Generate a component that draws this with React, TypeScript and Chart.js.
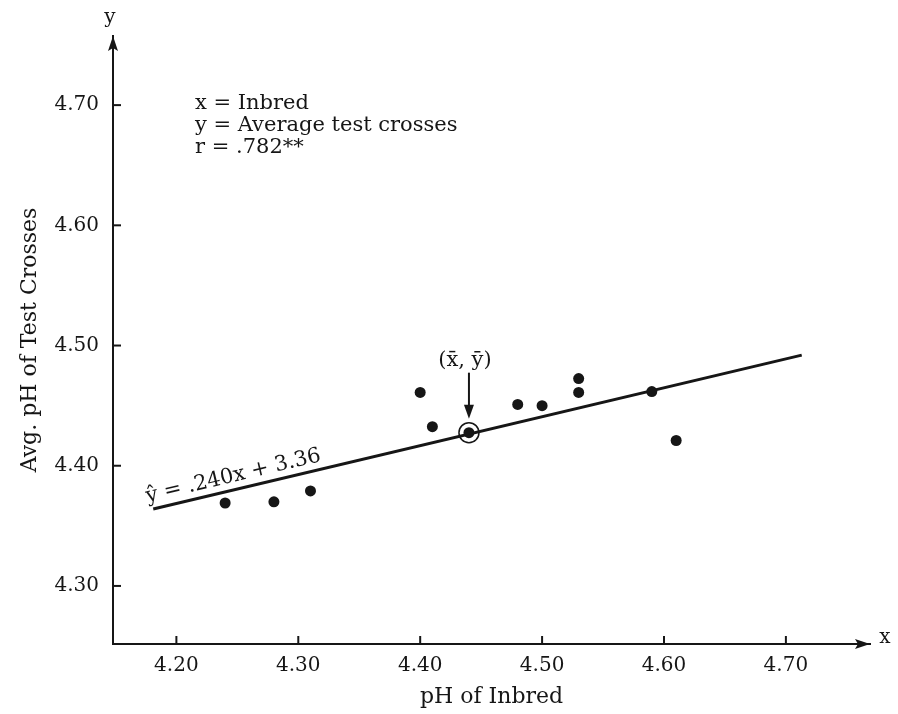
import React, { useEffect, useRef } from "react";
import { Chart, registerables } from "chart.js";
Chart.register(...registerables);

const inbredPH = [4.24, 4.28, 4.31, 4.4, 4.41, 4.44, 4.48, 4.5, 4.53, 4.53, 4.59, 4.61];
const testCrossPH = [4.369, 4.37, 4.379, 4.461, 4.4325, 4.4275, 4.451, 4.45, 4.4725, 4.461, 4.4617, 4.421];
const meanX = [4.44];
const meanY = [4.4275];
const fitLineX = [4.181, 4.713];
const fitLineY = [4.364, 4.492];
const xTickValues = [4.2, 4.3, 4.4, 4.5, 4.6, 4.7];
const xTickLabels = ["4.20", "4.30", "4.40", "4.50", "4.60", "4.70"];
const yTickValues = [4.3, 4.4, 4.5, 4.6, 4.7];
const yTickLabels = ["4.30", "4.40", "4.50", "4.60", "4.70"];
const noteLines = ["x = Inbred", "y = Average test crosses", "r = .782**"];
const equationLabel = "\u0177 = .240x + 3.36";
const meanLabel = "(x\u0304, y\u0304)";
const xTitle = "pH of Inbred";
const yTitle = "Avg. pH of Test Crosses";

const INK = "#161616";
const FONT = "'DejaVu Serif', serif";

const decorPlugin = {
  id: "decor",
  afterDatasetsDraw(chart: any) {
    const ctx = chart.ctx;
    const { left, right, top, bottom } = chart.chartArea;
    const xs = chart.scales.x;
    const ys = chart.scales.y;
    ctx.save();
    ctx.fillStyle = INK;
    ctx.strokeStyle = INK;
    // arrow heads
    ctx.beginPath();
    ctx.moveTo(left, top);
    ctx.lineTo(left - 5, top + 15);
    ctx.lineTo(left, top + 12);
    ctx.lineTo(left + 5, top + 15);
    ctx.closePath();
    ctx.fill();
    ctx.beginPath();
    ctx.moveTo(right, bottom);
    ctx.lineTo(right - 15, bottom - 5);
    ctx.lineTo(right - 12, bottom);
    ctx.lineTo(right - 15, bottom + 5);
    ctx.closePath();
    ctx.fill();
    // inner tick marks
    ctx.lineWidth = 2;
    xTickValues.forEach((v) => {
      const px = xs.getPixelForValue(v);
      ctx.beginPath();
      ctx.moveTo(px, bottom);
      ctx.lineTo(px, bottom - 8);
      ctx.stroke();
    });
    yTickValues.forEach((v) => {
      const py = ys.getPixelForValue(v);
      ctx.beginPath();
      ctx.moveTo(left, py);
      ctx.lineTo(left + 8, py);
      ctx.stroke();
    });
    // axis letters
    ctx.font = `20px ${FONT}`;
    ctx.textAlign = "center";
    ctx.textBaseline = "middle";
    ctx.fillText("y", left - 3, top - 18);
    ctx.fillText("x", right + 15, bottom - 6);
    // notes
    ctx.font = `21px ${FONT}`;
    ctx.textAlign = "left";
    noteLines.forEach((t, i) => ctx.fillText(t, 195, 104 + i * 22));
    // mean marker arrow and label
    const mx = xs.getPixelForValue(meanX[0]);
    const my = ys.getPixelForValue(meanY[0]);
    ctx.lineWidth = 2;
    ctx.beginPath();
    ctx.moveTo(mx, my - 60);
    ctx.lineTo(mx, my - 24);
    ctx.stroke();
    ctx.beginPath();
    ctx.moveTo(mx, my - 14);
    ctx.lineTo(mx - 5, my - 28);
    ctx.lineTo(mx + 5, my - 28);
    ctx.closePath();
    ctx.fill();
    ctx.textAlign = "center";
    ctx.fillText(meanLabel, mx - 4, my - 72);
    // equation along the fitted line
    const x0 = xs.getPixelForValue(fitLineX[0]);
    const y0 = ys.getPixelForValue(fitLineY[0]);
    const x1 = xs.getPixelForValue(fitLineX[1]);
    const y1 = ys.getPixelForValue(fitLineY[1]);
    const ang = Math.atan2(y1 - y0, x1 - x0);
    ctx.translate(x0, y0);
    ctx.rotate(ang);
    ctx.textAlign = "left";
    ctx.textBaseline = "alphabetic";
    ctx.fillText(equationLabel, -4, -8);
    ctx.restore();
  },
};

export default function App() {
  const ref = useRef<HTMLCanvasElement>(null);
  useEffect(() => {
    document.body.style.margin = "0";
    const canvas = ref.current!;
    const tickFont = { family: FONT, size: 20 };
    const titleFont = { family: FONT, size: 22 };
    const chart = new Chart(canvas, {
      type: "scatter",
      data: {
        datasets: [
          {
            label: "ring",
            data: meanX.map((x, i) => ({ x, y: meanY[i] })),
            pointRadius: 10,
            pointBackgroundColor: "rgba(0,0,0,0)",
            pointBorderColor: INK,
            pointBorderWidth: 1.5,
            order: 0,
          },
          {
            label: "points",
            data: inbredPH.map((x, i) => ({ x, y: testCrossPH[i] })),
            pointRadius: 5.5,
            pointBackgroundColor: INK,
            pointBorderWidth: 0,
            order: 1,
          },
          {
            label: "fit",
            type: "line",
            data: fitLineX.map((x, i) => ({ x, y: fitLineY[i] })),
            showLine: true,
            borderColor: INK,
            borderWidth: 3,
            pointRadius: 0,
            order: 2,
          } as any,
        ],
      },
      options: {
        responsive: false,
        animation: false,
        devicePixelRatio: 1,
        layout: { padding: { top: 36, right: 28, left: 0, bottom: 0 } },
        plugins: { legend: { display: false }, tooltip: { enabled: false } },
        scales: {
          x: {
            type: "linear",
            position: "bottom",
            min: 4.148,
            max: 4.769,
            grid: { display: false, drawTicks: false },
            border: { display: true, color: INK, width: 2 },
            afterBuildTicks: (s: any) => {
              s.ticks = xTickValues.map((value) => ({ value }));
            },
            afterFit: (s: any) => {
              s.height = 70;
            },
            ticks: {
              autoSkip: false,
              maxRotation: 0,
              padding: 9.6,
              color: INK,
              font: tickFont,
              callback: (_v: any, i: number) => xTickLabels[i],
            },
            title: {
              display: true,
              text: xTitle,
              color: INK,
              font: titleFont,
              padding: { top: 0, bottom: 3.5 },
            },
          },
          y: {
            type: "linear",
            position: "left",
            min: 4.2517,
            max: 4.7575,
            grid: { display: false, drawTicks: false },
            border: { display: true, color: INK, width: 2 },
            afterBuildTicks: (s: any) => {
              s.ticks = yTickValues.map((value) => ({ value }));
            },
            afterFit: (s: any) => {
              s.width = 113;
            },
            ticks: {
              autoSkip: false,
              padding: 14,
              color: INK,
              font: tickFont,
              callback: (_v: any, i: number) => yTickLabels[i],
            },
            title: {
              display: true,
              text: yTitle,
              color: INK,
              font: titleFont,
              padding: { top: 17.5, bottom: 0 },
            },
          },
        },
      },
      plugins: [decorPlugin],
    });
    return () => chart.destroy();
  }, []);
  return <canvas ref={ref} width={898} height={714} style={{ display: "block" }} />;
}
